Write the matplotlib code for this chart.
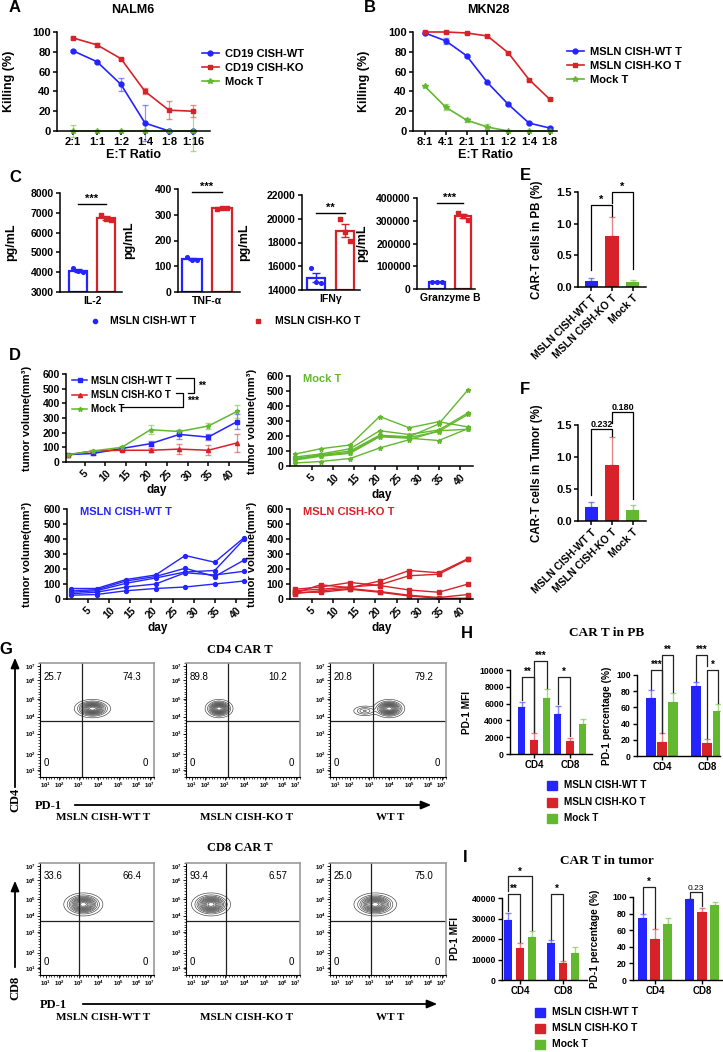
import matplotlib
matplotlib.use("Agg")
import matplotlib.pyplot as plt
import numpy as np
from matplotlib.colors import to_rgba
from matplotlib.lines import Line2D
from matplotlib.ticker import MultipleLocator

plt.rcParams["font.family"] = ["Liberation Sans", "DejaVu Sans"]
plt.rcParams["font.weight"] = "bold"
plt.rcParams["axes.labelweight"] = "bold"
plt.rcParams["mathtext.default"] = "regular"

W, H = 723, 1052
BLUE, RED, GREEN = "#2424ff", "#d62228", "#62b82e"
SERIF = ["Liberation Serif", "DejaVu Serif"]

# ---------------- data ----------------
# A  NALM6 killing
ratios_a = ["2:1", "1:1", "1:2", "1:4", "1:8", "1:16"]
nalm_wt = [81, 70, 47, 8, 0, 0]
nalm_wt_err = [1, 1, 7, 18, 0, 0]
nalm_ko = [94, 87, 73, 40, 21, 20]
nalm_ko_err = [1, 2, 1, 3, 9, 6]
nalm_mock = [0, 0, 0, 0, 0, 0]
nalm_mock_err = [6, 0, 0, 1, 0, 20]

# B  MKN28 killing
ratios_b = ["8:1", "4:1", "2:1", "1:1", "1:2", "1:4", "1:8"]
mkn_wt = [99, 91, 76, 49, 27, 8, 3]
mkn_wt_err = [1, 3, 1, 1, 1, 1, 1]
mkn_ko = [100, 100, 99, 96, 79, 52, 32]
mkn_ko_err = [1, 1, 1, 1, 1, 1, 1]
mkn_mock = [45, 24, 11, 4, 0, 0, 0]
mkn_mock_err = [1, 3, 2, 3, 0, 0, 0]

# C  cytokines (3 replicates each)
il2_wt = [4220, 4040, 3990]
il2_ko = [6900, 6680, 6620]
tnf_wt = [135, 126, 124]
tnf_ko = [322, 327, 328]
ifng_wt = [15850, 14700, 14600]
ifng_ko = [19950, 18900, 18150]
gzmb_wt = [31000, 30000, 29000]
gzmb_ko = [335000, 320000, 305000]

# D  tumour growth
days = [1, 7, 14, 21, 28, 35, 42]
vol_wt = [50, 58, 92, 125, 188, 170, 275]
vol_wt_err = [5, 8, 10, 15, 30, 20, 50]
vol_ko = [50, 75, 80, 80, 88, 80, 130]
vol_ko_err = [5, 8, 8, 15, 35, 35, 60]
vol_mock = [50, 75, 100, 220, 208, 245, 345]
vol_mock_err = [5, 8, 8, 30, 10, 20, 45]

mock_mice = [[80, 115, 140, 330, 255, 295, 260],
             [60, 80, 115, 235, 210, 240, 355],
             [50, 75, 100, 205, 195, 280, 510],
             [45, 70, 90, 200, 190, 230, 345],
             [40, 65, 85, 195, 185, 170, 250],
             [20, 30, 50, 120, 175, 235, 245]]
wt_mice = [[70, 70, 130, 160, 290, 245, 410],
           [55, 62, 120, 150, 205, 150, 260],
           [45, 55, 105, 140, 180, 190, 400],
           [35, 45, 80, 100, 175, 160, 185],
           [25, 30, 55, 70, 80, 100, 120]]
ko_mice = [[40, 95, 75, 120, 190, 175, 270],
           [55, 65, 80, 95, 155, 165, 265],
           [65, 80, 110, 90, 60, 45, 100],
           [35, 55, 70, 50, 25, 10, 30],
           [45, 45, 65, 45, 20, 5, 5]]

# E / F  CAR-T cells
groups_ef = ["MSLN CISH-WT T", "MSLN CISH-KO T", "Mock T"]
pb_pct = [0.10, 0.80, 0.08]
pb_err = [0.05, 0.30, 0.03]
tumor_pct = [0.22, 0.87, 0.17]
tumor_err = [0.08, 0.44, 0.08]

# G  flow cytometry (quadrant percentages, gate and population centres)
g_samples = ["MSLN CISH-WT T", "MSLN CISH-KO T", "WT T"]
cd4_ul = ["25.7", "89.8", "20.8"]
cd4_ur = ["74.3", "10.2", "79.2"]
cd8_ul = ["33.6", "93.4", "25.0"]
cd8_ur = ["66.4", "6.57", "75.0"]
cd4_gate_x = [0.37, 0.37, 0.37]
cd8_gate_x = [0.34, 0.35, 0.35]
cd4_gate_y = 0.49
cd8_gate_y = 0.48
cd4_pops = [[(0.46, 0.60, 0.065, 0.033, 1.0)],
            [(0.29, 0.60, 0.050, 0.033, 1.0)],
            [(0.51, 0.60, 0.055, 0.033, 1.0), (0.30, 0.58, 0.05, 0.022, 0.3)]]
cd8_pops = [[(0.38, 0.63, 0.070, 0.042, 1.0)],
            [(0.22, 0.63, 0.070, 0.042, 1.0)],
            [(0.39, 0.63, 0.075, 0.042, 1.0)]]
flow_xticks = [0.05, 0.17, 0.34, 0.51, 0.69, 0.85, 0.965]
flow_yticks = [0.06, 0.20, 0.38, 0.53, 0.68, 0.85, 0.97]
flow_ticklabels = ["$10^{%d}$" % k for k in range(1, 8)]

# H / I  PD-1
subsets = ["CD4", "CD8"]
pb_mfi = {"wt": [5550, 4750], "ko": [1700, 1500], "mock": [6650, 3550]}
pb_mfi_err = {"wt": [650, 1000], "ko": [750, 450], "mock": [1100, 650]}
pb_pd1 = {"wt": [71, 86], "ko": [17, 16], "mock": [67, 55]}
pb_pd1_err = {"wt": [10, 5], "ko": [11, 5], "mock": [11, 9]}
tu_mfi = {"wt": [29500, 18000], "ko": [15500, 8500], "mock": [20800, 13000]}
tu_mfi_err = {"wt": [3000, 1300], "ko": [2500, 800], "mock": [3000, 3000]}
tu_pd1 = {"wt": [75, 97], "ko": [50, 82], "mock": [68, 90]}
tu_pd1_err = {"wt": [4, 1], "ko": [11, 5], "mock": [7, 4]}

# ---------------- helpers ----------------
fig = plt.figure(figsize=(W / 100, H / 100), dpi=100)


def add_ax(l, t, r, b):
    return fig.add_axes([l / W, 1 - b / H, (r - l) / W, (b - t) / H])


def prism(ax, fs=7, lw=1.1):
    for s in ("top", "right"):
        ax.spines[s].set_visible(False)
    for s in ("left", "bottom"):
        ax.spines[s].set_linewidth(lw)
    ax.tick_params(direction="out", length=3, width=lw, labelsize=fs, pad=1.5)
    ax.patch.set_alpha(0)


def light(c, a=0.5):
    return to_rgba(c, a)


def bracket(ax, x1, x2, y, y1, y2, s, fs=7, color="#222222", weight="bold"):
    ax.plot([x1, x1, x2, x2], [y1, y, y, y2], color=color, lw=0.9, clip_on=False)
    ax.text((x1 + x2) / 2, y, s, ha="center", va="bottom", fontsize=fs,
            clip_on=False, weight=weight)


def ylab(ax, s, left_px, ax_left, ax_w, fs=8.5):
    ax.set_ylabel(s, fontsize=fs, va="bottom")
    ax.yaxis.set_label_coords((left_px - ax_left) / ax_w, 0.5)


def px(x, y):
    return x / W, 1 - y / H


def ftext(x, y, s, **kw):
    fig.text(x / W, 1 - y / H, s, **kw)


# panel letters
for letter, (x, y) in {"A": (15, 8), "B": (370, 8), "C": (15, 178), "D": (15, 355),
                       "E": (525, 175), "F": (525, 390), "G": (6, 650),
                       "H": (467, 633), "I": (465, 857)}.items():
    ftext(x, y, letter, fontsize=12, ha="center", va="center")

# ---------------- A & B ----------------
def killing(ax, labels, series, left, right, x0, step):
    prism(ax, fs=8)
    x = np.arange(len(labels))
    handles = []
    for vals, err, c, m, ms, lab in series:
        ax.errorbar(x, vals, yerr=err, color=c, marker=m, ms=ms, lw=1.2,
                    ecolor=light(c), elinewidth=0.9, capsize=2.5, clip_on=False)
        handles.append(Line2D([], [], color=c, marker=m, ms=ms, lw=1.2, label=lab))
    ax.set_xlim((left - x0) / step, (right - x0) / step)
    ax.set_ylim(0, 100)
    ax.set_yticks(range(0, 101, 20))
    ax.set_xticks(x, labels)
    ax.set_xlabel("E:T Ratio", fontsize=9)
    ax.xaxis.set_label_coords(0.5, -0.18)
    return handles


axA = add_ax(57, 32, 210, 131)
hA = killing(axA, ratios_a,
             [(nalm_wt, nalm_wt_err, BLUE, "o", 3.5, "CD19 CISH-WT"),
              (nalm_ko, nalm_ko_err, RED, "s", 3.5, "CD19 CISH-KO"),
              (nalm_mock, nalm_mock_err, GREEN, "*", 4, "Mock T")], 57, 210, 73, 24)
ylab(axA, "Killing (%)", 15, 57, 153, fs=9)
fig.legend(handles=hA, loc="center left", bbox_to_anchor=px(196, 68), frameon=False,
           fontsize=8, handlelength=1.6, labelspacing=0.35, handletextpad=0.5, borderpad=0)
ftext(133, 10, "NALM6", fontsize=9, ha="center", va="center")

axB = add_ax(413, 32, 557, 131)
hB = killing(axB, ratios_b,
             [(mkn_wt, mkn_wt_err, BLUE, "o", 3.5, "MSLN CISH-WT T"),
              (mkn_ko, mkn_ko_err, RED, "s", 3.5, "MSLN CISH-KO T"),
              (mkn_mock, mkn_mock_err, GREEN, "*", 4, "Mock T")], 413, 557, 425, 20.8)
ylab(axB, "Killing (%)", 370, 413, 144, fs=9)
fig.legend(handles=hB, loc="center left", bbox_to_anchor=px(561, 66), frameon=False,
           fontsize=8, handlelength=1.6, labelspacing=0.35, handletextpad=0.5, borderpad=0)
ftext(488, 10, "MKN28", fontsize=9, ha="center", va="center")

# ---------------- C ----------------
jit = [-0.18, 0.0, 0.18]
c_specs = [
    ("IL-2", il2_wt, il2_ko, (60, 193, 122, 292), 78, 28, (3000, 8000), 1000, 7450, "***", 17),
    ("TNF-α", tnf_wt, tnf_ko, (178, 189, 240, 292), 192, 30, (0, 400), 100, 388, "***", 135),
    ("IFNγ", ifng_wt, ifng_ko, (302, 195, 360, 290), 316, 29, (14000, 22000), 2000, 20500, "**", 250),
    ("Granzyme B", gzmb_wt, gzmb_ko, (417, 198, 475, 289), 437, 26, (0, 400000), 100000, 378000, "***", 368),
]
for name, wt, ko, box, x0, step, ylim, ystep, sig_y, sig, lab_x in c_specs:
    ax = add_ax(*box)
    prism(ax, fs=7.5)
    for i, (vals, c) in enumerate([(wt, BLUE), (ko, RED)]):
        m = np.mean(vals)
        sem = np.std(vals, ddof=1) / np.sqrt(len(vals))
        ax.bar(i, m - ylim[0], bottom=ylim[0], width=0.64, facecolor="white",
               edgecolor=c, lw=1.6, zorder=2)
        ax.errorbar(i, m, yerr=sem, color=c, capsize=3, lw=1, zorder=3)
        ax.scatter(np.array(jit) + i, vals, s=7, color=c, marker="o" if i == 0 else "s",
                   zorder=4, clip_on=False)
    ax.set_xlim((box[0] - x0) / step, (box[2] - x0) / step)
    ax.set_ylim(*ylim)
    ax.set_yticks(np.arange(ylim[0], ylim[1] + 1, ystep))
    ax.set_xticks([0.5], [name], fontsize=7.5)
    ax.tick_params(axis="x", length=0, pad=3)
    ax.plot([0, 1], [sig_y, sig_y], color="k", lw=1, clip_on=False)
    ax.text(0.5, sig_y, sig, ha="center", va="bottom", fontsize=8, clip_on=False)
    ylab(ax, "pg/mL", lab_x, box[0], box[2] - box[0], fs=9)

ov = fig.add_axes([0, 0, 1, 1], zorder=10)
ov.set_xlim(0, W)
ov.set_ylim(H, 0)
ov.axis("off")
ov.patch.set_alpha(0)

ov.plot([95], [321], "o", color=BLUE, ms=3)
ov.text(110, 321, "MSLN CISH-WT T", fontsize=7.5, va="center")
ov.plot([258], [321], "s", color=RED, ms=3)
ov.text(275, 321, "MSLN CISH-KO T", fontsize=7.5, va="center")

# ---------------- D ----------------
def tumor_axes(box, x_day0, px_day):
    ax = add_ax(*box)
    prism(ax, fs=7.5)
    ax.set_xlim((box[0] - x_day0) / px_day, (box[2] - x_day0) / px_day)
    ax.set_ylim(0, 600)
    ax.set_yticks(range(0, 601, 100))
    ax.set_xticks(range(5, 41, 5))
    ax.tick_params(axis="x", rotation=45)
    ax.set_xlabel("day", fontsize=8.5)
    ax.xaxis.set_label_coords(0.5, -0.25)
    return ax


axD1 = tumor_axes((66, 374, 248, 462), 64, 4.12)
hD = []
for vals, err, c, m, ms, lab in [(vol_wt, vol_wt_err, BLUE, "s", 3, "MSLN CISH-WT T"),
                                 (vol_ko, vol_ko_err, RED, "^", 3, "MSLN CISH-KO T"),
                                 (vol_mock, vol_mock_err, GREEN, "*", 3.5, "Mock T")]:
    axD1.errorbar(days, vals, yerr=err, color=c, marker=m, ms=ms, lw=1.1,
                  ecolor=light(c), elinewidth=0.9, capsize=2)
    hD.append(Line2D([], [], color=c, marker=m, ms=ms, lw=1.1, label=lab))
axD1.legend(handles=hD, loc="upper left", bbox_to_anchor=px(67, 371),
            bbox_transform=fig.transFigure, frameon=False, fontsize=7,
            handlelength=1.6, labelspacing=0.42, handletextpad=0.35, borderpad=0)
ylab(axD1, "tumor volume(mm³)", 32, 66, 182, fs=8)
ov.plot([176, 194, 194, 188], [378, 378, 393, 393], color="k", lw=0.9)
ov.plot([176, 183, 183, 122], [393, 393, 407, 407], color="k", lw=0.9)
ov.text(198, 386, "**", fontsize=7.5, va="center")
ov.text(187, 401, "***", fontsize=7.5, va="center")

for box, x0, pxd, mice, c, m, title, lab_x in [
        ((290, 376, 473, 466), 291, 4.22, mock_mice, GREEN, "*", "Mock T", 257),
        ((67, 509, 248, 599), 67, 4.22, wt_mice, BLUE, "o", "MSLN CISH-WT T", 32),
        ((290, 509, 473, 599), 291, 4.22, ko_mice, RED, "s", "MSLN CISH-KO T", 257)]:
    ax = tumor_axes(box, x0, pxd)
    for mouse in mice:
        ax.plot(days, mouse, color=c, marker=m, ms=2.8 if m != "*" else 3.5, lw=1)
    ax.text(0.07, 0.97, title, transform=ax.transAxes, color=c, fontsize=8,
            va="center", ha="left")
    ylab(ax, "tumor volume(mm³)", lab_x, box[0], box[2] - box[0], fs=8)

# ---------------- E / F ----------------
ef_cols = [BLUE, RED, GREEN]
for box, vals, err, lab in [((578, 192, 646, 287), pb_pct, pb_err, "CAR-T cells in PB (%)"),
                            ((578, 425, 646, 521), tumor_pct, tumor_err, "CAR-T cells in Tumor (%)")]:
    ax = add_ax(*box)
    prism(ax, fs=8)
    x = np.arange(3)
    ax.bar(x, vals, width=0.62, color=ef_cols, zorder=2)
    for i in x:
        ax.errorbar(i, vals[i], yerr=[[0], [err[i]]], color=light(ef_cols[i], 0.55),
                    capsize=2.5, lw=1, zorder=1)
    ax.set_xlim(-0.62, 2.62)
    ax.set_ylim(0, 1.5)
    ax.set_yticks([0, 0.5, 1.0, 1.5], ["0.0", "0.5", "1.0", "1.5"])
    ax.set_xticks(x, groups_ef, rotation=45, ha="right", rotation_mode="anchor", fontsize=7.5)
    ylab(ax, lab, 543, 578, 68, fs=8.3)
    if "PB" in lab:
        bracket(ax, 0, 1, 1.30, 0.27, 1.12, "*", fs=8, color="k")
        bracket(ax, 1, 2, 1.50, 1.33, 0.28, "*", fs=8, color="k")
    else:
        bracket(ax, 0, 1, 1.44, 0.40, 1.33, "0.232", fs=6.5, color="k")
        bracket(ax, 1, 2, 1.70, 1.53, 0.35, "0.180", fs=6.5, color="k")

# ---------------- G ----------------
gx = np.linspace(0, 1, 240)
GX, GY = np.meshgrid(gx, gx)


def flow(box, pops, gate_x, gate_y, ul, ur):
    ax = add_ax(*box)
    ax.set_xlim(0, 1)
    ax.set_ylim(0, 1)
    for s in ("left", "bottom"):
        ax.spines[s].set_linewidth(0.8)
    for s in ("top", "right"):
        ax.spines[s].set_color("#9a9a9a")
        ax.spines[s].set_linewidth(1.2)
    Z = np.zeros_like(GX)
    for cx, cy, sx, sy, a in pops:
        Z += a * np.exp(-((GX - cx) ** 2 / (2 * sx ** 2) + (GY - cy) ** 2 / (2 * sy ** 2)))
    ax.contour(GX, GY, Z, levels=np.linspace(0.05, 0.93, 12) * Z.max(),
               colors="#3c3c3c", linewidths=0.45)
    ax.axvline(gate_x, color="#222222", lw=0.9)
    ax.axhline(gate_y, color="#222222", lw=0.9)
    ax.set_xticks(flow_xticks, flow_ticklabels)
    ax.set_yticks(flow_yticks, flow_ticklabels)
    ax.xaxis.set_minor_locator(MultipleLocator(0.025))
    ax.yaxis.set_minor_locator(MultipleLocator(0.025))
    ax.tick_params(labelsize=4.4, length=2, width=0.6, pad=1)
    ax.tick_params(which="minor", length=1.2, width=0.5)
    kw = dict(transform=ax.transAxes, fontsize=7, weight="normal", va="center")
    ax.text(0.03, 0.88, ul, ha="left", **kw)
    ax.text(0.89, 0.88, ur, ha="right", **kw)
    ax.text(0.03, 0.12, "0", ha="left", **kw)
    ax.text(0.95, 0.12, "0", ha="right", **kw)


cols_g = [(40, 154), (186, 300), (330, 446)]
for i, (l, r) in enumerate(cols_g):
    flow((l, 663, r, 777), cd4_pops[i], cd4_gate_x[i], cd4_gate_y, cd4_ul[i], cd4_ur[i])
    flow((l, 863, r, 975), cd8_pops[i], cd8_gate_x[i], cd8_gate_y, cd8_ul[i], cd8_ur[i])

sk = dict(family=SERIF, fontsize=9, ha="center", va="center")
ov.text(240, 650, "CD4 CAR T", **sk)
ov.text(240, 848, "CD8 CAR T", **sk)
arrow = dict(arrowstyle="-|>,head_length=0.6,head_width=0.25", lw=1.3, color="k")
for y_top, y_bot, y_lab, y_pd, x_pd, x_a0, x_a1, y_grp, name in [
        (655, 790, 800, 806, 48, 72, 434, 818, "CD4"),
        (878, 970, 988, 1005, 53, 80, 440, 1017, "CD8")]:
    ov.annotate("", xy=(15, y_top), xytext=(15, y_bot), arrowprops=arrow)
    ov.text(15, y_lab, name, rotation=90, **sk)
    ov.text(x_pd, y_pd, "PD-1", **sk)
    ov.annotate("", xy=(x_a1, y_pd - 1), xytext=(x_a0, y_pd - 1), arrowprops=arrow)
    for xs, lab in zip([103, 247, 390], g_samples):
        ov.text(xs, y_grp, lab, family=SERIF, fontsize=8, ha="center", va="center")

# ---------------- H / I ----------------
bar_keys = [("wt", BLUE), ("ko", RED), ("mock", GREEN)]


def pd1_axes(box, x0, step, off, width, vals, errs, ylim, ystep, lab, lab_x):
    ax = add_ax(*box)
    prism(ax, fs=6.3, lw=1.0)
    x = np.arange(2)
    for k, (key, c) in enumerate(bar_keys):
        xs = x + (k - 1) * off
        ax.bar(xs, vals[key], width=width, color=c, zorder=2)
        ax.errorbar(xs, vals[key], yerr=[[0, 0], errs[key]], fmt="none",
                    ecolor=light(c, 0.55), capsize=2, lw=1, zorder=1)
    ax.set_xlim((box[0] - x0) / step, (box[2] - x0) / step)
    ax.set_ylim(*ylim)
    ax.set_yticks(np.arange(ylim[0], ylim[1] + 1, ystep))
    ax.set_xticks(x, subsets, fontsize=7)
    ylab(ax, lab, lab_x, box[0], box[2] - box[0], fs=7.3)
    return ax


o1 = 12.5 / 36
axH1 = pd1_axes((510, 670, 592, 754), 534, 36, o1, 0.22, pb_mfi, pb_mfi_err,
                (0, 10000), 2000, "PD-1 MFI", 472)
bracket(axH1, -o1, 0, 9200, 6400, 2600, "**", fs=7)
bracket(axH1, 0, o1, 11100, 2600, 7900, "***", fs=7)
bracket(axH1, 1 - o1, 1, 9200, 5900, 2100, "*", fs=7)

o2 = 11 / 45
axH2 = pd1_axes((637, 675, 720, 756), 662, 45, o2, 0.22, pb_pd1, pb_pd1_err,
                (0, 100), 20, "PD-1 percentage (%)", 612)
bracket(axH2, -o2, 0, 106, 83, 29, "***", fs=7)
bracket(axH2, 0, o2, 125, 29, 79, "**", fs=7)
bracket(axH2, 1 - o2, 1, 125, 93, 111, "***", fs=7)
bracket(axH2, 1, 1 + o2, 106, 22, 65, "*", fs=7)

o3 = 12 / 43
axI1 = pd1_axes((502, 898, 587, 980), 520, 43, o3, 0.19, tu_mfi, tu_mfi_err,
                (0, 40000), 10000, "PD-1 MFI", 460)
bracket(axI1, -o3, 0, 42000, 33500, 18500, "**", fs=7)
bracket(axI1, -o3, o3, 50500, 43500, 24500, "*", fs=7)
bracket(axI1, 1 - o3, 1, 42000, 20000, 9800, "*", fs=7)

o4 = 12.5 / 47
axI2 = pd1_axes((633, 897, 722, 980), 655, 47, o4, 0.21, tu_pd1, tu_pd1_err,
                (0, 100), 20, "PD-1 percentage (%)", 600)
bracket(axI2, -o4, 0, 112, 81, 63, "*", fs=7)
bracket(axI2, 1 - o4, 1, 106, 99, 89, "0.23", fs=6, weight="normal")

ftext(607, 633, "CAR T in PB", family=SERIF, fontsize=9.5, ha="center", va="center")
ftext(607, 861, "CAR T in tumor", family=SERIF, fontsize=9.5, ha="center", va="center")

leg_labels = ["MSLN CISH-WT T", "MSLN CISH-KO T", "Mock T"]
for sx, ys, fs in [(552, [785, 802, 818], 7.2), (540, [1012, 1028, 1044], 7.5)]:
    for (key, c), y, lab in zip(bar_keys, ys, leg_labels):
        ov.add_patch(plt.Rectangle((sx - 5, y - 4.5), 10, 9, color=c))
        ov.text(sx + 12, y, lab, fontsize=fs, va="center")

fig.savefig("out.png", dpi=100)
